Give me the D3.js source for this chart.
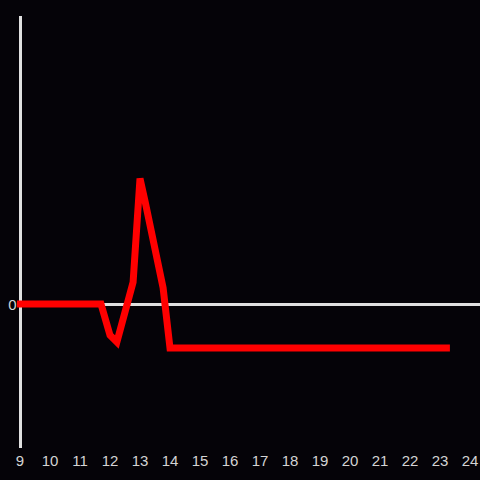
<!DOCTYPE html>
<html><head><meta charset="utf-8">
<script src="https://cdn.jsdelivr.net/npm/d3@7"></script>
<style>html,body{margin:0;padding:0;background:#050308;}svg{display:block;}</style>
</head><body>
<svg id="c" width="480" height="480"></svg>
<script>
const hours = [8.9, 11.7, 12.0, 12.23, 12.77, 13.0, 13.17, 13.77, 14.0, 23.33];
const values = [0, 0, -10.8, -13.2, 7.6, 43.6, 35.6, 5.6, -15.3, -15.3];
const xTicks = [9,10,11,12,13,14,15,16,17,18,19,20,21,22,23,24];
const yTicks = [0];

const svg = d3.select("#c");
svg.append("rect").attr("width",480).attr("height",480).attr("fill","#050308");
const x = d3.scaleLinear().domain([9,24]).range([20,470]);
const y = d3.scaleLinear().domain([-50,100]).range([448,16]);

svg.append("line").attr("x1",20.5).attr("x2",20.5).attr("y1",y(100)).attr("y2",y(-50))
  .attr("stroke","#e0e0e0").attr("stroke-width",3);
svg.append("line").attr("x1",20).attr("x2",480).attr("y1",y(0)+0.5).attr("y2",y(0)+0.5)
  .attr("stroke","#e0e0e0").attr("stroke-width",3);

svg.selectAll("text.yl").data(yTicks).enter().append("text").attr("class","yl")
  .attr("x",16.5).attr("y",y(0)+1).attr("dy","0.35em").attr("text-anchor","end")
  .attr("fill","#d4d4d4").attr("font-family","Liberation Sans, Arial, sans-serif").attr("font-size",15)
  .text(d=>d);
svg.selectAll("text.xl").data(xTicks).enter().append("text").attr("class","xl")
  .attr("x",d=>x(d)).attr("y",461).attr("dy","0.35em").attr("text-anchor","middle")
  .attr("fill","#d4d4d4").attr("font-family","Liberation Sans, Arial, sans-serif").attr("font-size",15)
  .text(d=>d);

const data = hours.map((h,i)=>({h, v: values[i]}));
svg.append("path").datum(data)
  .attr("d", d3.line().x(d=>x(d.h)).y(d=>y(d.v)))
  .attr("fill","none").attr("stroke","#ff0000").attr("stroke-width",7)
  .attr("stroke-linejoin","miter").attr("stroke-linecap","butt");
</script>
</body></html>
